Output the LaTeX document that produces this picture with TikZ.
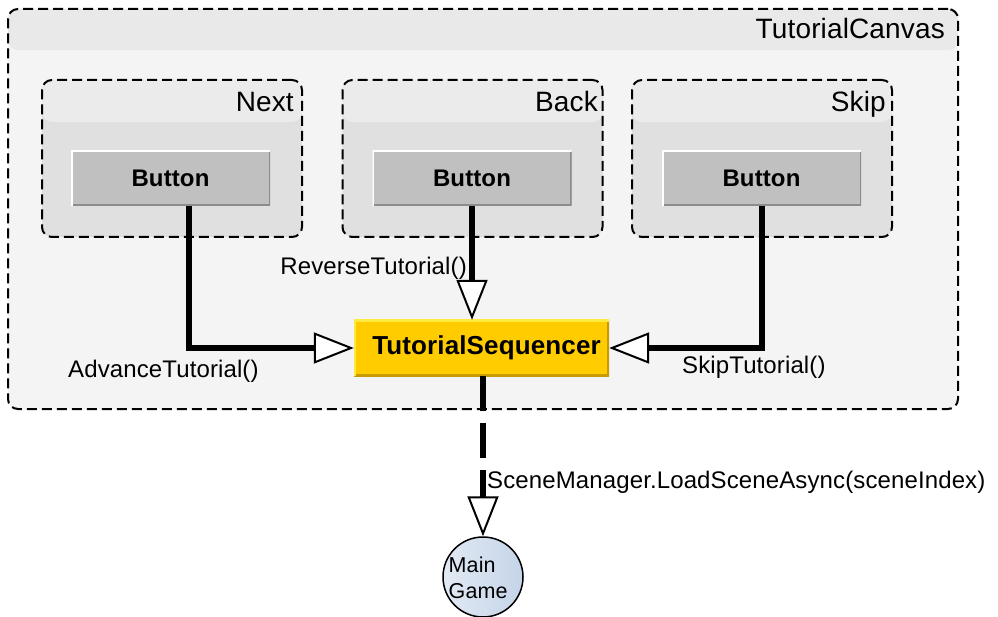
\documentclass[tikz,border=0pt]{standalone}
\usepackage{fontspec}
\setmainfont{Liberation Sans}[LetterSpace=0.5]
\usetikzlibrary{arrows.meta}

\definecolor{canvasbody}{HTML}{F4F4F4}
\definecolor{canvashead}{HTML}{E9E9E9}
\definecolor{groupbody}{HTML}{E0E0E0}
\definecolor{grouphead}{HTML}{EBEBEB}
\definecolor{btnfill}{HTML}{C0C0C0}
\definecolor{btnshade}{HTML}{8C8C8C}
\definecolor{seqfill}{HTML}{FFCC00}
\definecolor{seqlight}{HTML}{FFEA40}
\definecolor{seqdark}{HTML}{C89B00}
\definecolor{gameleft}{HTML}{E2EAF4}
\definecolor{gameright}{HTML}{C5D4E8}

\tikzset{
  canvasbox/.style={draw=black, line width=2pt, dash pattern=on 10pt off 5pt,
    rounded corners=10pt, inner sep=0pt, fill=canvasbody,
    minimum width=950pt, minimum height=400pt,
    path picture={\fill[canvashead]
      (path picture bounding box.north west) rectangle
      ([yshift=-41pt]path picture bounding box.north east);}},
  groupbox/.style={draw=black, line width=2pt, dash pattern=on 10pt off 5pt,
    rounded corners=10pt, inner sep=0pt, fill=groupbody,
    minimum width=260pt, minimum height=157pt,
    path picture={\fill[grouphead]
      (path picture bounding box.north west) rectangle
      ([yshift=-42pt]path picture bounding box.north east);}},
  titletext/.style={anchor=base east, inner sep=0pt, font=\fontsize{28}{31}\selectfont},
  buttonbox/.style={fill=btnfill, minimum width=199pt, minimum height=55pt, inner sep=0pt,
    font=\fontsize{24}{28}\selectfont\bfseries,
    path picture={
      \draw[btnshade, line width=3pt] (path picture bounding box.south west) -| (path picture bounding box.north east);
      \draw[white, line width=3pt] (path picture bounding box.south west) |- (path picture bounding box.north east);}},
  seqbox/.style={fill=seqfill, minimum width=255pt, minimum height=56pt, inner sep=0pt,
    font=\fontsize{26}{29}\selectfont\bfseries,
    path picture={
      \draw[seqdark, line width=4pt] (path picture bounding box.south west) -| (path picture bounding box.north east);
      \draw[seqlight, line width=4pt] (path picture bounding box.south west) |- (path picture bounding box.north east);}},
  gamecircle/.style={circle, draw=black, line width=1.5pt, minimum size=80pt, inner sep=0pt,
    left color=gameleft, right color=gameright},
  edgetext/.style={inner sep=0pt, font=\fontsize{24}{27}\selectfont},
  conn/.style={draw=black, line width=6pt,
    -{Triangle[length=40pt, width=31pt, fill=white, line width=2pt]}},
  dashconn/.style={conn, dash pattern=on 35pt off 12pt},
}

\begin{document}
\begin{tikzpicture}[x=1pt, y=-1pt]
  \useasboundingbox[fill=white] (0,0) rectangle (998,617);

  % outer canvas with its title band
  \node[canvasbox] (canvas) at (483,209) {};
  \node[titletext] (canvastitle) at (945,39) {TutorialCanvas};

  % the three button groups
  \node[groupbox] (gnext) at (172,158.5) {};
  \node[groupbox] (gback) at (472.5,158.5) {};
  \node[groupbox] (gskip) at (762,158.5) {};
  \node[titletext] (tnext) at (294,112) {Next};
  \node[titletext] (tback) at (598,112) {Back};
  \node[titletext] (tskip) at (886,112) {Skip};

  \node[buttonbox] (bnext) at (170.5,178.5) {Button};
  \node[buttonbox] (bback) at (472,178.5) {Button};
  \node[buttonbox] (bskip) at (761.5,178.5) {Button};

  % sequencer and target scene
  \node[seqbox] (seq) at (481.5,348) {\hspace*{10pt}TutorialSequencer};
  \node[gamecircle] (game) at (483,577) {};
  \node[anchor=north west, inner sep=0pt, align=left,
        font=\fontsize{21.5}{26}\selectfont] (gametext) at (448.5,557) {Main\\Game};

  % button callbacks
  \draw[conn] ([xshift=18pt]bnext.south) |- (seq.west);
  \draw[conn] (bback.south) -- (bback.south |- seq.north);
  \draw[conn] (bskip.south) |- (seq.east);
  \draw[dashconn] (seq.south -| game.north) -- (game.north);

  % connector labels
  \node[edgetext, anchor=base east] (lrev) at (467,275) {ReverseTutorial()};
  \node[edgetext, anchor=base west] (ladv) at (68,377) {AdvanceTutorial()};
  \node[edgetext, anchor=base west] (lskip) at (682,373) {SkipTutorial()};
  \node[edgetext, anchor=base west] (lload) at (487,488) {SceneManager.LoadSceneAsync(sceneIndex)};
\end{tikzpicture}
\end{document}
